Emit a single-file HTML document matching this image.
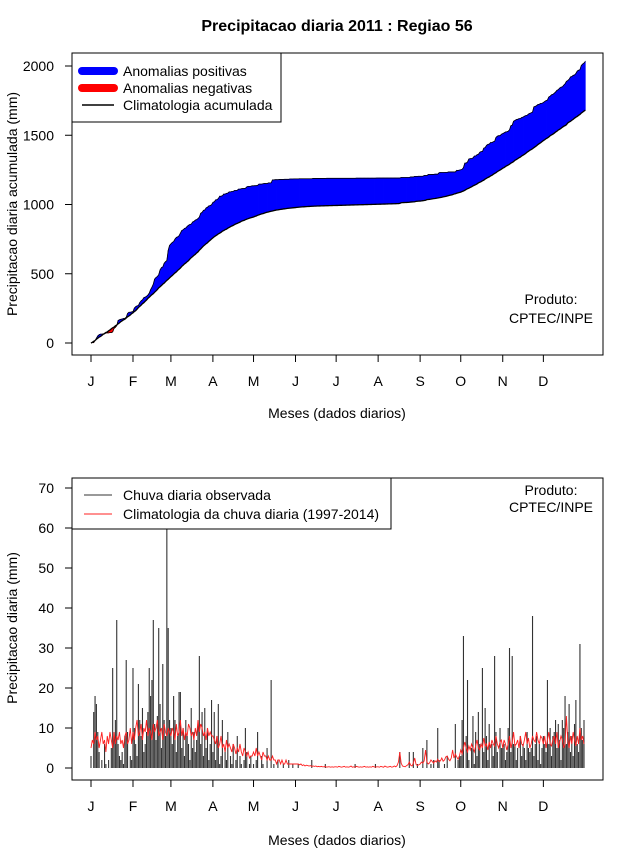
<!DOCTYPE html>
<html><head><meta charset="utf-8"><style>
body{margin:0;background:#fff}
svg{display:block;font-family:"Liberation Sans",Arial,sans-serif}
</style></head><body>
<svg id="c" width="640" height="850" viewBox="0 0 640 850">
<text x="337" y="31" font-size="16" font-weight="bold" text-anchor="middle">Precipitacao diaria 2011 : Regiao 56</text>
<g id="top"></g>
<g id="bot"></g>
</svg>
<script>
const monthLabels=["J","F","M","A","M","J","J","A","S","O","N","D"];
const monthStart=[1,32,60,91,121,152,182,213,244,274,305,335];
const topYTicks=[0,500,1000,1500,2000];
const botYTicks=[0,10,20,30,40,50,60,70];
const obsJan=[3,0,14,18,16,9,4,0,2,0,6,1,0,2,0,5,25,8,12,37,6,3,2,4,1,8,27,9,0,3,2];
const obsFeb=[25,10,6,3,21,12,8,15,4,6,9,14,25,18,22,37,11,7,13,35,16,5,26,12,8,74,35,12];
const obsMar=[10,6,18,12,4,8,19,19,5,10,3,12,8,6,2,15,5,9,4,7,11,28,6,14,3,15,5,10,2,6,17];
const obsApr=[4,14,2,8,16,1,3,12,0,5,2,9,0,3,1,6,0,2,8,0,3,1,0,2,10,4,0,1,3,0];
const obsMay=[1,0,2,9,0,0,3,1,0,0,5,0,0,22,0,1,0,0,2,0,0,0,1,0,0,0,2,0,0,1,0];
const obsJun=[0,0,1,0,0,0,0,0,0,0,0,0,2,0,0,0,0,0,0,0,0,0,1,0,0,0,0,0,0,0];
const obsJul=[0,0,0,0,0,0,0,0,0,0,0,0,0,0,1,0,0,0,0,0,0,0,0,0,0,0,0,0,0,1,0];
const obsAug=[0,0,0,0,0,0,0,0,0,0,0,0,0,0,0,0,4,0,0,0,0,0,0,4,0,0,4,0,0,1,0];
const obsSep=[0,0,5,0,0,7,0,0,1,0,2,0,0,10,2,0,0,0,1,0,3,0,0,0,0,0,11,0,2,3];
const obsOct=[3,12,33,0,8,22,2,0,5,13,1,9,3,14,6,0,25,4,15,8,2,11,0,6,3,28,9,4,0,10,5];
const obsNov=[5,6,2,4,10,30,4,28,6,6,2,5,0,8,3,6,5,2,9,5,4,5,38,3,6,8,2,6,1,5];
const obsDec=[8,6,4,22,6,10,3,8,9,12,5,11,7,2,12,10,18,6,9,16,4,8,3,11,17,6,4,31,10,7,12];
const cliJan=[5,7,6,9,7,8,5,7,9,6,7,4,8,6,9,7,5,9,6,8,7,9,6,7,5,8,9,6,7,10,6];
const cliFeb=[9,7,10,12,8,9,11,7,10,9,12,8,10,9,7,11,9,10,12,8,9,10,7,11,9,8,10,9];
const cliMar=[8,10,9,7,11,8,9,12,8,10,7,9,8,11,10,8,9,7,10,8,12,9,11,10,8,9,7,10,8,9,8];
const cliApr=[8,7,6,8,5,6,8,5,6,4,7,5,6,5,4,6,5,3.5,5,4,6,4,3,5,4,3,4,2.5,3,3];
const cliMay=[4,3,5,3,4,3,2,4,3,3,2,3,2,2,3,2,2,1,2,2,1,2,1,1,2,1,1,1,1,1,1];
const cliJun=[1,1,1,0.8,1,0.6,0.8,0.5,0.7,0.6,0.5,0.6,0.4,0.5,0.4,0.5,0.3,0.4,0.3,0.4,0.3,0.3,0.4,0.2,0.3,0.3,0.2,0.3,0.2,0.3];
const cliJul=[0.3,0.2,0.4,0.3,0.2,0.3,0.4,0.2,0.3,0.2,0.3,0.5,0.2,0.3,0.2,0.4,0.3,0.2,0.3,0.2,0.3,0.4,0.2,0.3,0.2,0.3,0.2,0.4,0.3,0.2,0.3];
const cliAug=[0.3,0.2,0.4,0.3,0.2,0.5,0.3,0.2,0.3,0.4,0.2,0.3,0.5,0.3,0.6,1.5,4,1.2,0.5,0.4,0.3,0.6,0.8,1.5,0.7,0.5,1.2,2.5,0.9,0.6,0.8];
const cliSep=[1,1.5,1.2,1.8,4.5,1.5,1,1.3,2,1.6,1.2,1.8,1.5,2.2,1.6,1.8,2.5,1.7,2,2.8,3,2.2,1.8,2.5,4.5,2.5,3.5,2.8,2.2,3];
const cliOct=[4.5,3.5,5,6.5,5,4,5.5,4.5,6,5,4,5.5,7,5,4.5,6,5,7.5,5.5,6,4.5,6.5,5,7,6,5.5,8,6,5,6.5,7];
const cliNov=[5,7,6,4.5,6,8,5,6.5,9,5.5,6,7,5,8,6,5.5,7,9,6,7.5,5,6,8,7,6.5,9,7,6,8,7.5];
const cliDec=[6,8,5,7,9,6,5.5,7,8,6,9,5,6.5,8,7,5,6,13,7,5,8,6,9,7,5.5,8,6,10,7,8,6];

const obs=[].concat(obsJan,obsFeb,obsMar,obsApr,obsMay,obsJun,obsJul,obsAug,obsSep,obsOct,obsNov,obsDec);
const cli=[].concat(cliJan,cliFeb,cliMar,cliApr,cliMay,cliJun,cliJul,cliAug,cliSep,cliOct,cliNov,cliDec);
const cumObs=[],cumCli=[];
obs.reduce((a,v)=>{a+=v;cumObs.push(a);return a;},0);
cli.reduce((a,v)=>{a+=v;cumCli.push(a);return a;},0);

const NS="http://www.w3.org/2000/svg";
function mk(p,tag,at,txt){const e=document.createElementNS(NS,tag);for(const k in at)e.setAttribute(k,at[k]);if(txt!==undefined)e.textContent=txt;p.appendChild(e);return e;}
const xDay=d=>91+(d-1)*(493/364);
const yTop=v=>343-v*(277/2000);
const yBot=v=>768-v*4;

// ---------- top panel ----------
const T=document.getElementById('top');
for(let i=0;i<cumObs.length;i++){
  const d=i+1;
  const o0=i==0?0:cumObs[i-1], c0=i==0?0:cumCli[i-1];
  const o1=cumObs[i], c1=cumCli[i];
  const pos=(o0+o1)>=(c0+c1);
  const q=mk(T,'polygon',{points:`${xDay(d)},${yTop(o0)} ${xDay(d+1)},${yTop(o1)} ${xDay(d+1)},${yTop(c1)} ${xDay(d)},${yTop(c0)}`,fill:pos?'#0000ff':'#ff0000',stroke:pos?'#0000ff':'#ff0000','stroke-width':0.6});
  
  
}
let pO=`M${xDay(1)},${yTop(0)}`,pC=pO;
cumObs.forEach((v,i)=>{pO+=` L${xDay(i+2)},${yTop(v)}`;});
cumCli.forEach((v,i)=>{pC+=` L${xDay(i+2)},${yTop(v)}`;});
const lo=mk(T,'path',{d:pO,fill:'none',stroke:'#000','stroke-width':0.8});


const lc=mk(T,'path',{d:pC,fill:'none',stroke:'#000','stroke-width':1.3});


mk(T,'rect',{x:72,y:53,width:531,height:302,fill:'none',stroke:'#000','stroke-width':1,});
topYTicks.forEach(v=>{
  const t=mk(T,'line',{x1:65,x2:72,y1:yTop(v),y2:yTop(v),stroke:'#000'});
  
  
  const l=mk(T,'text',{x:54,y:yTop(v)+5,'font-size':14,'text-anchor':'end'},String(v));
  
  
});
monthLabels.forEach((m,i)=>{
  const x=xDay(monthStart[i]);
  const t=mk(T,'line',{x1:x,x2:x,y1:355,y2:362,stroke:'#000'});
  
  
  const l=mk(T,'text',{x:x,y:386,'font-size':14,'text-anchor':'middle'},m);
  
  
});
mk(T,'text',{x:337,y:418,'font-size':14,'text-anchor':'middle',},'Meses (dados diarios)');
mk(T,'text',{x:0,y:0,'font-size':14,'text-anchor':'middle',transform:'translate(17,204) rotate(-90)',},'Precipitacao diaria acumulada (mm)');
mk(T,'text',{x:551,y:304,'font-size':14,'text-anchor':'middle',},'Produto:');
mk(T,'text',{x:551,y:323,'font-size':14,'text-anchor':'middle',},'CPTEC/INPE');
const LG=mk(T,'g',{});
mk(LG,'rect',{x:72,y:53,width:209,height:69,fill:'#fff',stroke:'#000',});
mk(LG,'line',{x1:82,x2:114,y1:71,y2:71,stroke:'#0000ff','stroke-width':8,'stroke-linecap':'round',});
mk(LG,'line',{x1:82,x2:114,y1:88,y2:88,stroke:'#ff0000','stroke-width':8,'stroke-linecap':'round',});
mk(LG,'line',{x1:82,x2:114,y1:105,y2:105,stroke:'#000','stroke-width':1.5,});
mk(LG,'text',{x:123,y:76,'font-size':14,},'Anomalias positivas');
mk(LG,'text',{x:123,y:93,'font-size':14,},'Anomalias negativas');
mk(LG,'text',{x:123,y:110,'font-size':14,},'Climatologia acumulada');

// ---------- bottom panel ----------
const B=document.getElementById('bot');
mk(B,'clipPath',{id:'bc'}).appendChild(document.createElementNS(NS,'rect'));
const cr=B.querySelector('#bc rect');cr.setAttribute('x',72);cr.setAttribute('y',478);cr.setAttribute('width',531);cr.setAttribute('height',302);
const BG=mk(B,'g',{'clip-path':'url(#bc)',});
obs.forEach((v,i)=>{
  if(v<=0)return;
  const x=xDay(i+1);
  const b=mk(BG,'line',{x1:x,x2:x,y1:yBot(0),y2:yBot(v),stroke:'#333','stroke-width':1.1});
  
  
});
let pr='';
cli.forEach((v,i)=>{pr+=(i?' L':'M')+xDay(i+1)+','+yBot(v);});
const rl=mk(BG,'path',{d:pr,fill:'none',stroke:'#ff2020','stroke-width':0.9});


mk(B,'rect',{x:72,y:478,width:531,height:302,fill:'none',stroke:'#000',});
botYTicks.forEach(v=>{
  const t=mk(B,'line',{x1:65,x2:72,y1:yBot(v),y2:yBot(v),stroke:'#000'});
  
  
  const l=mk(B,'text',{x:54,y:yBot(v)+5,'font-size':14,'text-anchor':'end'},String(v));
  
  
});
monthLabels.forEach((m,i)=>{
  const x=xDay(monthStart[i]);
  const t=mk(B,'line',{x1:x,x2:x,y1:780,y2:787,stroke:'#000'});
  
  
  const l=mk(B,'text',{x:x,y:811,'font-size':14,'text-anchor':'middle'},m);
  
  
});
mk(B,'text',{x:337,y:845,'font-size':14,'text-anchor':'middle',},'Meses (dados diarios)');
mk(B,'text',{x:0,y:0,'font-size':14,'text-anchor':'middle',transform:'translate(17,628) rotate(-90)',},'Precipitacao diaria (mm)');
mk(B,'text',{x:551,y:495,'font-size':14,'text-anchor':'middle',},'Produto:');
mk(B,'text',{x:551,y:512,'font-size':14,'text-anchor':'middle',},'CPTEC/INPE');
const LB=mk(B,'g',{});
mk(LB,'rect',{x:72,y:478,width:319,height:51,fill:'#fff',stroke:'#000',});
mk(LB,'line',{x1:84,x2:112,y1:495,y2:495,stroke:'#333',});
mk(LB,'line',{x1:84,x2:112,y1:514,y2:514,stroke:'#ff2020',});
mk(LB,'text',{x:123,y:500,'font-size':14,},'Chuva diaria observada');
mk(LB,'text',{x:123,y:519,'font-size':14,},'Climatologia da chuva diaria (1997-2014)');
</script>
</body></html>
